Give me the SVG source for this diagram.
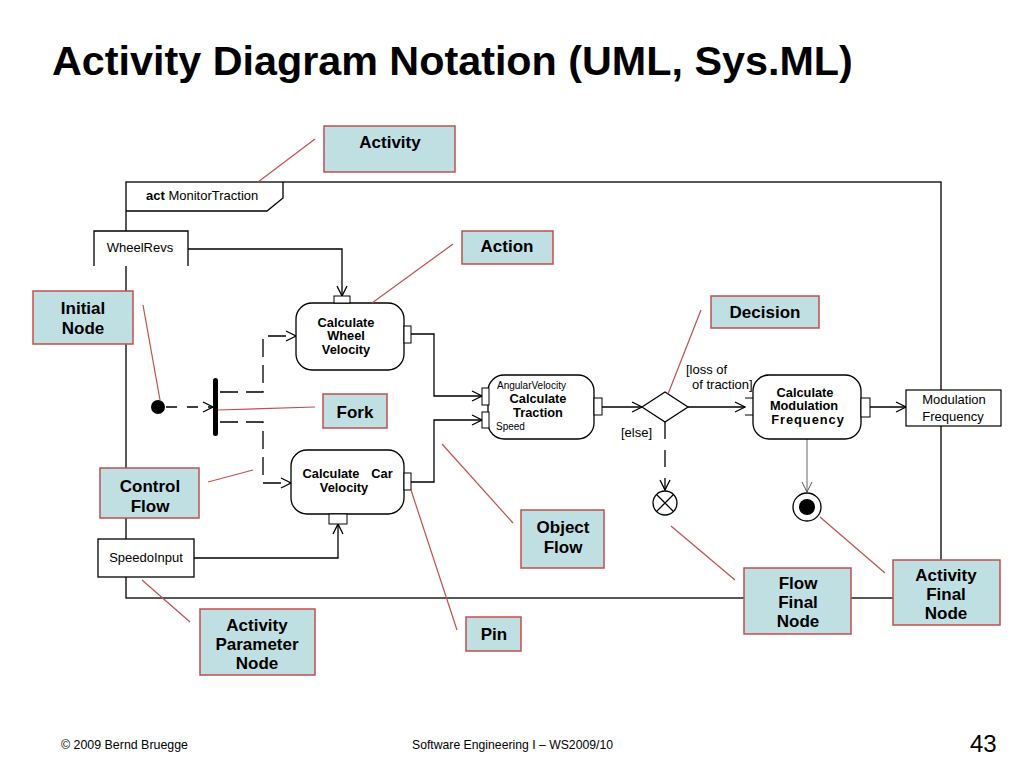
<svg xmlns="http://www.w3.org/2000/svg" width="1024" height="768" viewBox="0 0 1024 768">
<style>
text{font-family:"Liberation Sans",Arial,sans-serif;fill:#000}
.t{font-size:41.3px;font-weight:bold}
.nb{font-size:12.8px;font-weight:bold;text-anchor:middle}
.pn{font-size:13px;text-anchor:middle}
.sm{font-size:10px}
.g{font-size:13px}
.co rect{fill:#bfdfe3;stroke:#c0504d;stroke-width:1.5}
.co text{font-size:17px;font-weight:bold;text-anchor:middle}
.act{fill:#fff;stroke:#000;stroke-width:1.3}
.pin{fill:#fff;stroke:#000;stroke-width:1}
.fl{fill:none;stroke:#000;stroke-width:1.3}
.ld{fill:none;stroke:#c0504d;stroke-width:1.2}
.ft{font-size:12.2px}
</style>
<defs>
<marker id="ar" markerUnits="userSpaceOnUse" markerWidth="14" markerHeight="14" refX="11" refY="6" orient="auto">
<path d="M1,1 L11,6 L1,11" fill="none" stroke="#000" stroke-width="1.3"/>
</marker>
<marker id="arg" markerUnits="userSpaceOnUse" markerWidth="14" markerHeight="14" refX="11" refY="6" orient="auto">
<path d="M1,1 L11,6 L1,11" fill="none" stroke="#555" stroke-width="1"/>
</marker>
</defs>
<rect width="1024" height="768" fill="#fff"/>
<text class="t" x="52" y="75">Activity Diagram Notation (UML, Sys.ML)</text>

<g id="frame">
<rect x="126" y="182" width="815" height="416" fill="none" stroke="#000" stroke-width="1.3"/>
<path d="M126,211 H267 L283,198 V182" fill="none" stroke="#000" stroke-width="1.3"/>
<text x="146" y="200" font-size="13"><tspan font-weight="bold">act</tspan> MonitorTraction</text>
</g>

<g id="connectors">
<path class="fl" d="M188,249 H342 V296" marker-end="url(#ar)"/>
<path class="fl" d="M411,334 H434 V396 H482" marker-end="url(#ar)"/>
<path class="fl" d="M411,482 H434 V420 H482" marker-end="url(#ar)"/>
<path class="fl" d="M194,558 H338 V524" marker-end="url(#ar)"/>
<path class="fl" d="M166,407 H213" stroke-dasharray="11,10" marker-end="url(#ar)"/>
<path class="fl" d="M220,392 H263 V336 H296" stroke-dasharray="18,8" marker-end="url(#ar)"/>
<path class="fl" d="M220,422 H263 V483 H291" stroke-dasharray="18,8" marker-end="url(#ar)"/>
<path class="fl" d="M602,407 H642" marker-end="url(#ar)"/>
<path class="fl" d="M688,407 H745" marker-end="url(#ar)"/>
<path class="fl" d="M870,407 H906" marker-end="url(#ar)"/>
<path class="fl" d="M665,422 V490" stroke-dasharray="17,11" marker-end="url(#ar)"/>
<path d="M807,439 V492" fill="none" stroke="#555" stroke-width="0.9" marker-end="url(#arg)"/>
</g>

<g id="WheelRevs">
<rect x="94" y="231" width="94" height="35" fill="#fff"/>
<path d="M94,266 V231 H188 V266" fill="none" stroke="#000" stroke-width="1.3"/>
<text class="pn" x="140" y="252">WheelRevs</text>
</g>

<g id="SpeedoInput">
<rect x="98" y="539" width="96" height="38" fill="#fff" stroke="#000" stroke-width="1.3"/>
<text class="pn" x="146" y="562">SpeedoInput</text>
</g>

<g id="CalcWheelVelocity">
<rect class="act" x="296" y="303" width="108" height="67" rx="16"/>
<rect class="pin" x="334" y="296" width="16" height="7"/>
<rect class="pin" x="404" y="326" width="7" height="17"/>
<text class="nb" x="346" y="327">Calculate</text>
<text class="nb" x="346" y="340">Wheel</text>
<text class="nb" x="346" y="354">Velocity</text>
</g>

<g id="CalcCarVelocity">
<rect class="act" x="291" y="450" width="113" height="64" rx="16"/>
<rect class="pin" x="404" y="473" width="7" height="17"/>
<rect class="pin" x="329" y="514" width="18" height="10"/>
<text class="nb" x="331" y="478">Calculate</text>
<text class="nb" x="382" y="478">Car</text>
<text class="nb" x="344" y="492">Velocity</text>
</g>

<g id="CalcTraction">
<rect class="act" x="488" y="375" width="106" height="64" rx="16"/>
<rect class="pin" x="482" y="388" width="7" height="17"/>
<rect class="pin" x="482" y="412" width="7" height="16"/>
<rect class="pin" x="594" y="398" width="8" height="17"/>
<text class="sm" x="497" y="389">AngularVelocity</text>
<text class="nb" x="538" y="403">Calculate</text>
<text class="nb" x="538" y="417">Traction</text>
<text class="sm" x="496" y="430">Speed</text>
</g>

<g id="CalcModulation">
<path d="M745,398 H753 M745,415 H753" stroke="#000" stroke-width="1"/>
<rect class="act" x="753" y="375" width="108" height="64" rx="16"/>
<rect class="pin" x="861" y="398" width="9" height="19"/>
<text class="nb" x="805" y="397">Calculate</text>
<text class="nb" x="804" y="410">Modulation</text>
<text class="nb" x="808" y="424" letter-spacing="1">Frequency</text>
</g>

<g id="ModFreq">
<rect x="906" y="390" width="95" height="36" fill="#fff" stroke="#000" stroke-width="1.2"/>
<text class="pn" x="954" y="404">Modulation</text>
<text class="pn" x="953" y="421">Frequency</text>
</g>

<g id="Initial">
<circle cx="158" cy="407" r="7" fill="#000"/>
</g>
<g id="Fork">
<rect x="213" y="378" width="5" height="58" rx="2.5" fill="#000"/>
</g>
<g id="Decision">
<path d="M642,407 L665,392 L688,407 L665,422 Z" fill="#fff" stroke="#000" stroke-width="1.3"/>
<text class="g" x="686" y="374">[loss of</text>
<text class="g" x="692" y="389">of traction]</text>
<text class="g" x="621" y="437">[else]</text>
</g>
<g id="FlowFinal">
<circle cx="665" cy="503" r="12" fill="#fff" stroke="#000" stroke-width="1.3"/>
<path d="M656.5,494.5 L673.5,511.5 M673.5,494.5 L656.5,511.5" stroke="#000" stroke-width="1.3"/>
</g>
<g id="ActivityFinal">
<circle cx="807" cy="507" r="14" fill="#fff" stroke="#000" stroke-width="1.3"/>
<circle cx="807" cy="507" r="8" fill="#000"/>
</g>

<g id="leaders">
<path class="ld" d="M315,139 L258,182"/>
<path class="ld" d="M453,244 L372,303"/>
<path class="ld" d="M701,310 L668,394"/>
<path class="ld" d="M143,305 L160,400"/>
<path class="ld" d="M218,410 L315,407"/>
<path class="ld" d="M208,482 L253,470"/>
<path class="ld" d="M142,580 L190,622"/>
<path class="ld" d="M442,444 L513,523"/>
<path class="ld" d="M411,490 L457,630"/>
<path class="ld" d="M671,526 L735,580"/>
<path class="ld" d="M820,517 L885,573"/>
</g>

<g id="cActivity" class="co"><rect x="324" y="126" width="131" height="46"/><text x="390" y="148">Activity</text></g>
<g id="cAction" class="co"><rect x="462" y="231" width="91" height="33"/><text x="507" y="252">Action</text></g>
<g id="cDecision" class="co"><rect x="711" y="296" width="108" height="32"/><text x="765" y="318">Decision</text></g>
<g id="cInitial" class="co"><rect x="33" y="291" width="100" height="53"/><text x="83" y="314">Initial</text><text x="83" y="334">Node</text></g>
<g id="cFork" class="co"><rect x="323" y="394" width="64" height="34"/><text x="355" y="418">Fork</text></g>
<g id="cControl" class="co"><rect x="100" y="468" width="99" height="50"/><text x="150" y="492">Control</text><text x="150" y="512">Flow</text></g>
<g id="cParam" class="co"><rect x="200" y="609" width="115" height="66"/><text x="257" y="631">Activity</text><text x="257" y="650">Parameter</text><text x="257" y="669">Node</text></g>
<g id="cObject" class="co"><rect x="521" y="510" width="83" height="58"/><text x="563" y="533">Object</text><text x="563" y="553">Flow</text></g>
<g id="cPin" class="co"><rect x="466" y="617" width="55" height="34"/><text x="494" y="640">Pin</text></g>
<g id="cFlowFinal" class="co"><rect x="744" y="568" width="107" height="66"/><text x="798" y="589">Flow</text><text x="798" y="608">Final</text><text x="798" y="627">Node</text></g>
<g id="cActFinal" class="co"><rect x="893" y="560" width="107" height="65"/><text x="946" y="581">Activity</text><text x="946" y="600">Final</text><text x="946" y="619">Node</text></g>

<text class="ft" x="61" y="749" textLength="127" lengthAdjust="spacingAndGlyphs">© 2009 Bernd Bruegge</text>
<text class="ft" x="412" y="749" textLength="201" lengthAdjust="spacingAndGlyphs">Software Engineering  I – WS2009/10</text>
<text x="970" y="752" font-size="24">43</text>
</svg>
